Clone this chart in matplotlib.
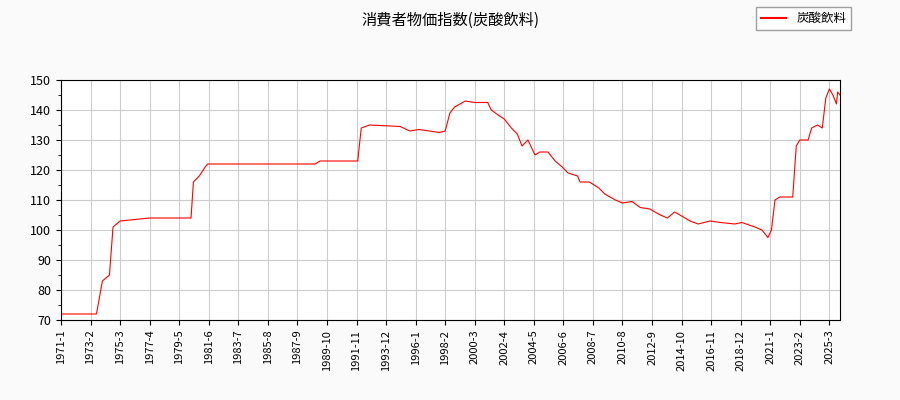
import pandas as pd
import matplotlib.pyplot as plt

plt.rcParams['font.family'] = ['Noto Sans CJK JP', 'DejaVu Sans']

# points (month, index value)
dates = ["1971-01", "1973-07", "1973-12", "1974-06", "1974-09", "1975-03", "1977-04",
         "1980-03", "1980-05", "1980-10", "1981-03", "1981-05", "1988-12", "1989-04",
         "1991-12", "1992-03", "1992-10", "1994-12", "1995-08", "1996-04", "1997-09",
         "1998-02", "1998-06", "1998-10", "1999-07", "2000-03", "2001-02", "2001-05",
         "2001-12", "2002-04", "2002-10", "2003-03", "2003-07", "2003-12", "2004-06",
         "2004-10", "2005-05", "2005-11", "2006-05", "2006-10", "2007-06", "2007-08",
         "2008-04", "2008-12", "2009-05", "2010-02", "2010-08", "2011-04", "2011-11",
         "2012-07", "2013-04", "2013-10", "2014-04", "2015-01", "2015-05", "2015-12",
         "2016-10", "2017-07", "2018-07", "2019-01", "2019-12", "2020-06", "2020-11",
         "2021-02", "2021-05", "2021-09", "2022-08", "2022-11", "2023-02", "2023-09",
         "2023-12", "2024-05", "2024-09", "2024-12", "2025-03", "2025-06", "2025-09",
         "2025-10", "2025-12"]
values = [72, 72, 83, 85, 101, 103, 104,
          104, 116, 118, 121, 122, 122, 123,
          123, 134, 135, 134.5, 133, 133.5, 132.5,
          133, 139, 141, 143, 142.5, 142.5, 140,
          138, 137, 134, 132, 128, 130, 125,
          126, 126, 123, 121, 119, 118, 116,
          116, 114, 112, 110, 109, 109.5, 107.5,
          107, 105, 104, 106, 104, 103, 102,
          103, 102.5, 102, 102.5, 101, 100, 97.5,
          100, 110, 111, 111, 128, 130, 130,
          134, 135, 134, 144, 147, 145, 142,
          146, 145]

d = pd.to_datetime(dates)
idx = [(t.year - 1971) * 12 + t.month - 1 for t in d]
last = idx[-1]
tick_pos = list(range(0, last + 1, 25))
tick_labels = [f"{1971 + p // 12}-{p % 12 + 1}" for p in tick_pos]

fig = plt.figure(figsize=(9, 4), dpi=100, facecolor="#fafafa")
ax = fig.add_axes([61 / 900, 0.2, (840 - 61) / 900, 0.6])
ax.plot(idx, values, color="red", lw=0.8, label="炭酸飲料")
ax.set_xlim(0, last)
ax.set_ylim(70, 150)
ax.set_yticks(range(70, 151, 10))
ax.set_yticks(range(70, 151, 5), minor=True)
ax.set_xticks(tick_pos)
ax.set_xticklabels(tick_labels, rotation=90, fontsize=8)
ax.tick_params(axis="y", labelsize=9)
ax.grid(True, color="#cccccc", lw=0.8)
fig.suptitle("消費者物価指数(炭酸飲料)", y=0.97, fontsize=11)
leg = fig.legend(loc="upper right", bbox_to_anchor=(0.953, 0.998), fontsize=9,
                 fancybox=False, edgecolor="#888888")
for h in leg.get_lines():
    h.set_linewidth(1.5)
fig.savefig("out.png")
